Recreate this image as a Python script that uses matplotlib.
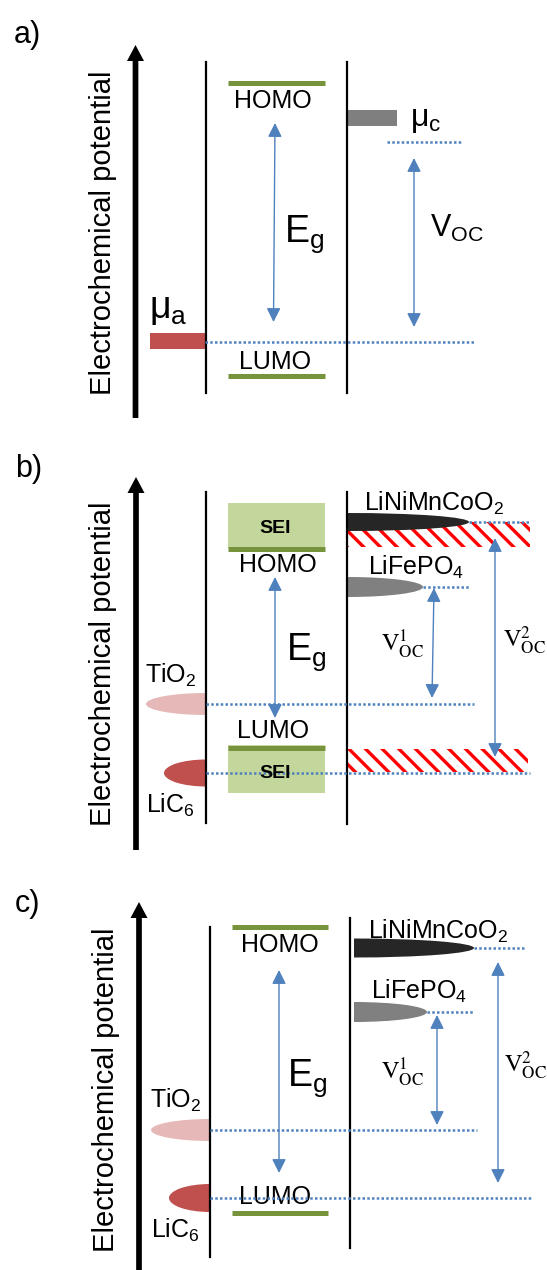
import matplotlib.pyplot as plt
from matplotlib import patches

plt.rcParams['font.family'] = ['Liberation Sans', 'DejaVu Sans']
plt.rcParams['mathtext.fontset'] = 'custom'
plt.rcParams['mathtext.rm'] = 'Liberation Sans'
plt.rcParams['mathtext.it'] = 'Liberation Sans:italic'
plt.rcParams['mathtext.bf'] = 'Liberation Sans:bold'
plt.rcParams['hatch.linewidth'] = 2.4

BLUE = '#4F81BD'
GREEN = '#77933C'
SEI_FILL = '#C3D69B'

# ── layout of the three panels (pixel coordinates, y downwards) ─────────
PANEL_LABELS = ['a)', 'b)', 'c)']
PANEL_LABEL_XY = [(14, 43), (15, 477), (15, 912)]
AXIS_X = [135.5, 136, 139]
AXIS_TIP = [45, 477, 902]
AXIS_BASE = [418, 850, 1270]
YLABEL = 'Electrochemical potential'
YLABEL_XY = [(103, 233), (103, 664), (106, 1090)]

ANODE_LINE = [(205.5, 62, 393), (206, 492, 823), (210, 927, 1257)]
CATHODE_LINE = [(347, 62, 393), (347, 492, 824), (349.5, 918, 1248)]

# electrolyte window
HOMO_Y = [83, 548.5, 927]
LUMO_Y = [376, 747.5, 1213]
BAR_X = [(228, 325), (228, 325), (232, 328)]
HOMO_TXT = [(273, 108), (278, 572), (280, 952)]
LUMO_TXT = [(275, 369), (273, 738), (275, 1204)]
EG_ARROW = [((275, 123), (273.5, 322)), ((275, 577), (275, 718)),
            ((279, 970), (279, 1173))]
EG_TXT = [(284, 242), (286, 660), (287, 1086)]

# SEI layers (panel b)
SEI_BOX = [(503, 548), (745, 793)]
SEI_TXT_Y = [533, 778]

# panel a electrodes
MU_A_BAR = (150, 205, 333, 349)
MU_C_BAR = (348, 397, 110, 126)
MU_A_TXT = (149, 318)
MU_C_TXT = (410, 126)
A_LEVELS = [(387, 463, 142), (205, 474, 342)]
VOC_ARROW = ((414, 158), (414, 327))
VOC_TXT = (430, 237)

# cathode materials (panels b, c)
CATHODES = [r'$\mathrm{LiNiMnCoO_2}$', r'$\mathrm{LiFePO_4}$']
CATHODE_COLORS = ['#262626', '#808080']
CATHODE_Y = [[522, 587], [948, 1012]]
CATHODE_X0 = [348, 354]
CATHODE_LEN = [[121, 75], [120, 73]]
CATHODE_H = [[18, 20], [19, 20]]
CATHODE_TXT = [[(364, 511), (368, 575)], [(368, 939), (371, 999)]]
CATHODE_DOT_END = [[530, 470], [525, 474]]

# anode materials (panels b, c)
ANODES = [r'$\mathrm{TiO_2}$', r'$\mathrm{LiC_6}$']
ANODE_COLORS = ['#E6B9B8', '#C0504D']
ANODE_Y = [[704, 773], [1130, 1198]]
ANODE_LEN = [[60, 42], [59, 41]]
ANODE_H = [[22, 27], [22, 28]]
ANODE_TXT = [[(145, 683), (146, 813)], [(150, 1108), (151, 1238)]]
ANODE_DOT_END = [[474, 530], [477, 533]]

# open-circuit voltages (panels b, c)
V_LABELS = [r'$\mathrm{V}_{\mathrm{OC}}^{1}$', r'$\mathrm{V}_{\mathrm{OC}}^{2}$']
V1_ARROW = [((434, 588), (432, 698)), ((437, 1015), (437, 1125))]
V2_ARROW = [((495, 538), (495, 757)), ((498, 962), (498, 1183))]
V_TXT = [[(381, 652), (503, 648)], [(381, 1080), (504, 1073)]]

# hatched instability bands (panel b)
HATCH_BANDS = [(348, 530, 522, 547), (348, 528, 749, 772)]


fig = plt.figure(figsize=(5.47, 12.70), dpi=100)
ax = fig.add_axes([0, 0, 1, 1])
ax.set_xlim(0, 547)
ax.set_ylim(1270, 0)
ax.axis('off')


def dotted(x1, x2, y):
    ax.plot([x1, x2], [y, y], color=BLUE, lw=1.8, ls=(0, (1, 0.9)), zorder=4)


def double_arrow(top, bottom):
    ax.annotate('', xy=top, xytext=bottom,
                arrowprops=dict(arrowstyle='<|-|>,head_length=0.7,head_width=0.35',
                                mutation_scale=12, color=BLUE, lw=1,
                                shrinkA=0, shrinkB=0), zorder=3)


def half_ellipse(x0, y, length, h, color, right=True):
    e = patches.Ellipse((x0, y), 2 * length, h, color=color, lw=0, zorder=2)
    ax.add_patch(e)
    clip = patches.Rectangle((x0 if right else x0 - length, y - h),
                             length, 2 * h, transform=ax.transData)
    e.set_clip_path(clip)


def rect(x1, x2, y1, y2, **kw):
    ax.add_patch(patches.Rectangle((x1, y1), x2 - x1, y2 - y1, **kw))


for i in range(3):
    ax.text(*PANEL_LABEL_XY[i], PANEL_LABELS[i], fontsize=22, va='baseline')
    ax.add_patch(patches.FancyArrow(AXIS_X[i], AXIS_BASE[i], 0,
                                    AXIS_TIP[i] - AXIS_BASE[i], width=5.7,
                                    head_width=17, head_length=16,
                                    length_includes_head=True,
                                    color='black', lw=0))
    ax.text(*YLABEL_XY[i], YLABEL, fontsize=21, rotation=90,
            ha='center', va='center')
    for x, y1, y2 in (ANODE_LINE[i], CATHODE_LINE[i]):
        ax.plot([x, x], [y1, y2], color='black', lw=1.6, zorder=3)

    # electrolyte window
    if i == 1:
        for (y1, y2), ty in zip(SEI_BOX, SEI_TXT_Y):
            rect(BAR_X[i][0], BAR_X[i][1], y1, y2, color=SEI_FILL, lw=0, zorder=1)
            ax.text(275, ty, 'SEI', fontsize=14, fontweight='bold',
                    ha='center', va='baseline', zorder=5)
    for y in (HOMO_Y[i], LUMO_Y[i]):
        ax.plot(BAR_X[i], [y, y], color=GREEN, lw=3.6,
                solid_capstyle='butt', zorder=2)
    ax.text(*HOMO_TXT[i], 'HOMO', fontsize=18, ha='center', va='baseline')
    ax.text(*LUMO_TXT[i], 'LUMO', fontsize=18, ha='center', va='baseline')
    double_arrow(*EG_ARROW[i])
    ax.text(*EG_TXT[i], r'$\mathrm{E_g}$', fontsize=27, va='baseline')

# panel a: electrode chemical potentials
rect(MU_A_BAR[0], MU_A_BAR[1], MU_A_BAR[2], MU_A_BAR[3], color='#C0504D', lw=0)
rect(MU_C_BAR[0], MU_C_BAR[1], MU_C_BAR[2], MU_C_BAR[3], color='#7F7F7F', lw=0)
ax.text(*MU_A_TXT, r'$\mathrm{μ_a}$', fontsize=27, va='baseline')
ax.text(*MU_C_TXT, r'$\mathrm{μ_c}$', fontsize=23, va='baseline')
for x1, x2, y in A_LEVELS:
    dotted(x1, x2, y)
double_arrow(*VOC_ARROW)
ax.text(*VOC_TXT, r'$\mathrm{V_{OC}}$', fontsize=22, va='baseline')

# panels b, c: real electrode materials
for k, i in enumerate((1, 2)):
    if i == 1:
        for x1, x2, y1, y2 in HATCH_BANDS:
            rect(x1, x2, y1, y2, facecolor='white', edgecolor='red',
                 lw=0, hatch='\\\\', zorder=1)
    for j in range(2):
        y = CATHODE_Y[k][j]
        half_ellipse(CATHODE_X0[k], y, CATHODE_LEN[k][j], CATHODE_H[k][j],
                     CATHODE_COLORS[j], right=True)
        dotted(CATHODE_X0[k] + CATHODE_LEN[k][j], CATHODE_DOT_END[k][j], y)
        ax.text(*CATHODE_TXT[k][j], CATHODES[j], fontsize=18, va='baseline')

        ya = ANODE_Y[k][j]
        xa = ANODE_LINE[i][0]
        half_ellipse(xa, ya, ANODE_LEN[k][j], ANODE_H[k][j],
                     ANODE_COLORS[j], right=False)
        dotted(xa, ANODE_DOT_END[k][j], ya)
        ax.text(*ANODE_TXT[k][j], ANODES[j], fontsize=18, va='baseline')

        ax.text(*V_TXT[k][j], V_LABELS[j], fontsize=17.5, va='baseline',
                math_fontfamily='stix')
    double_arrow(*V1_ARROW[k])
    double_arrow(*V2_ARROW[k])

fig.savefig('out.png', dpi=100)
